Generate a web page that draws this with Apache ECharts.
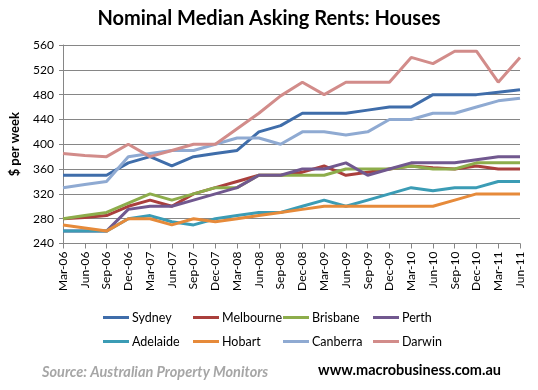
<!DOCTYPE html>
<html>
<head>
<meta charset="utf-8">
<script src="https://cdn.jsdelivr.net/npm/echarts@6/dist/echarts.min.js"></script>
<style>
html,body{margin:0;padding:0;background:#fff;}
#chart{width:538px;height:390px;}
</style>
</head>
<body>
<div id="chart"></div>
<script>
var categories = ['Mar-06','Jun-06','Sep-06','Dec-06','Mar-07','Jun-07','Sep-07','Dec-07','Mar-08','Jun-08','Sep-08','Dec-08','Mar-09','Jun-09','Sep-09','Dec-09','Mar-10','Jun-10','Sep-10','Dec-10','Mar-11','Jun-11'];
var sydney    = [350,350,350,370,380,365,380,385,390,420,430,450,450,450,455,460,460,480,480,480,484,488];
var melbourne = [280,282,285,300,310,300,320,330,340,350,350,355,365,350,355,360,365,362,360,365,360,360];
var brisbane  = [280,285,290,305,320,310,320,330,330,350,350,350,350,360,360,360,365,360,360,370,370,370];
var perth     = [260,260,260,295,300,300,310,320,330,350,350,360,360,370,350,360,370,370,370,375,380,380];
var adelaide  = [260,260,260,280,285,275,270,280,285,290,290,300,310,300,310,320,330,325,330,330,340,340];
var hobart    = [270,265,260,280,280,270,280,275,280,285,290,295,300,300,300,300,300,300,310,320,320,320];
var canberra  = [330,335,340,380,385,390,390,400,410,410,400,420,420,415,420,440,440,450,450,460,470,474];
var darwin    = [385,382,380,400,380,390,400,400,425,450,478,500,480,500,500,500,540,530,550,550,500,540];
var yTicks = [240,280,320,360,400,440,480,520,560];

var names = ['Sydney','Melbourne','Brisbane','Perth','Adelaide','Hobart','Canberra','Darwin'];
var datas = [sydney,melbourne,brisbane,perth,adelaide,hobart,canberra,darwin];
var colors = ['#3F6DAA','#AA3F3C','#8DAD4B','#71588F','#3B9CB5','#E68A3A','#8FAAD2','#D28C8A'];

var FONT = 'Lato, "Liberation Sans", sans-serif';

var series = names.map(function(n,i){
  return {
    name:n, type:'line', data:datas[i], symbol:'none', smooth:false,
    lineStyle:{width:3,color:colors[i]}, itemStyle:{color:colors[i]},
    emphasis:{disabled:true}
  };
});

var legendLeft = [98,188,278,368];
var legends = names.map(function(n,i){
  return {
    data:[n], left:legendLeft[i%4], top:(i<4?306:330),
    icon:'rect', itemWidth:26, itemHeight:3, itemGap:0,
    textStyle:{fontFamily:FONT,fontSize:12.5,color:'#000',padding:[0,0,0,-2]},
    selectedMode:false
  };
});

var chart = echarts.init(document.getElementById('chart'), null, {renderer:'canvas'});
chart.setOption({
  animation:false,
  backgroundColor:'#fff',
  color:colors,
  title:{
    text:'Nominal Median Asking Rents: Houses', left:'center', top:4,
    textStyle:{fontFamily:FONT,fontSize:20,fontWeight:'bold',color:'#000'}
  },
  legend:legends,
  grid:{left:57,right:18,top:45,bottom:146.5,containLabel:false},
  xAxis:{
    type:'category', data:categories, boundaryGap:false,
    axisLine:{lineStyle:{color:'#868686',width:1}},
    axisTick:{show:true,length:5,lineStyle:{color:'#868686'},alignWithLabel:true},
    axisLabel:{rotate:90,interval:0,fontFamily:FONT,fontSize:12,color:'#000',margin:8},
    splitLine:{show:false}
  },
  yAxis:{
    type:'value', min:240, max:560, interval:40,
    name:'$ per week', nameLocation:'middle', nameGap:42, nameRotate:90,
    nameTextStyle:{fontFamily:FONT,fontSize:13,fontWeight:'bold',color:'#000'},
    axisLine:{show:true,lineStyle:{color:'#868686',width:1}},
    axisTick:{show:true,length:4,lineStyle:{color:'#868686'}},
    axisLabel:{fontFamily:FONT,fontSize:12,color:'#000',margin:9},
    splitLine:{show:true,lineStyle:{color:'#868686',width:1}}
  },
  graphic:[
    {type:'text',left:42,top:365,style:{text:'Source: Australian Property Monitors',font:'italic bold 14.5px '+FONT,fill:'#A6A6A6'}},
    {type:'text',left:318,top:363,style:{text:'www.macrobusiness.com.au',font:'bold 14.5px '+FONT,fill:'#000'}}
  ],
  series:series
});
</script>
</body>
</html>
